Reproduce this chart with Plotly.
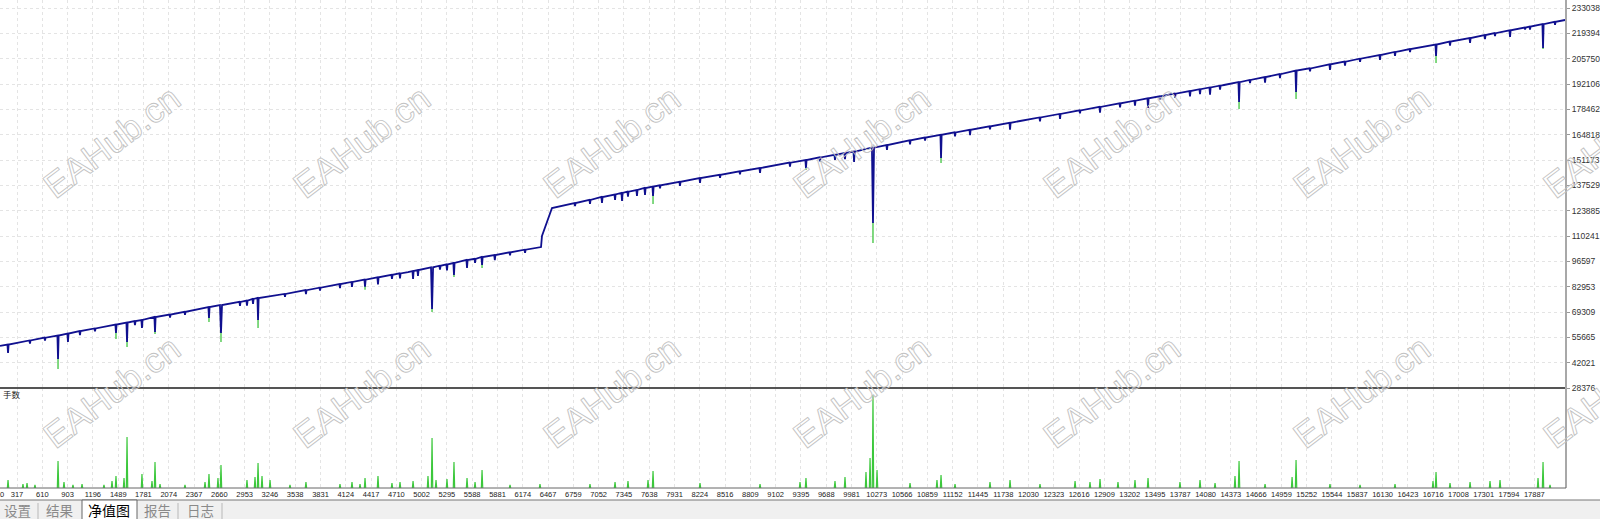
import plotly.graph_objects as go

# ---------------- data ----------------
x_tick_labels = [317, 610, 903, 1196, 1489, 1781, 2074, 2367, 2660, 2953, 3246, 3538, 3831,
                 4124, 4417, 4710, 5002, 5295, 5588, 5881, 6174, 6467, 6759, 7052, 7345, 7638,
                 7931, 8224, 8516, 8809, 9102, 9395, 9688, 9981, 10273, 10566, 10859, 11152,
                 11445, 11738, 12030, 12323, 12616, 12909, 13202, 13495, 13787, 14080, 14373,
                 14666, 14959, 15252, 15544, 15837, 16130, 16423, 16716, 17008, 17301, 17594,
                 17887]
y_tick_labels = [28376, 42021, 55665, 69309, 82953, 96597, 110241, 123885, 137529, 151173,
                 164818, 178462, 192106, 205750, 219394, 233038]

# main curve key points (trade #, balance)
trend_x = [120, 2436, 4845, 5910, 6385, 6396, 6454, 6477, 6512, 7647, 10044, 10542,
           11932, 14294, 16332, 18243]
trend_y = [51000, 70900, 90850, 100550, 104300, 110240, 118320, 121550, 125320, 136630,
           156020, 160870, 172180, 191570, 209880, 226580]

# drawdown spikes: trade #, level before, blue low, green (equity) low
dip_x = [213, 792, 907, 1046, 1463, 1591, 1764, 1915, 2540, 2679, 3050, 3108, 3663, 4347,
         4497, 4903, 4960, 5123, 5377, 5528, 5702, 5850, 7091, 7242, 7323, 7496, 7589, 7682,
         8226, 8921, 9453, 10010, 10229, 10391, 11017, 11353, 11816, 12395, 12858, 13414,
         13900, 14132, 14468, 14769, 15128, 15521, 16100, 16749, 17143, 17606, 17780, 17988,
         467, 641, 1220, 1683, 2089, 2262, 2899, 2980, 3420, 3826, 4057, 4196, 4659, 4752,
         5215, 5296, 5621, 6026, 6200,
         6779, 6952, 7392, 7763, 7994, 8458, 8689, 9268, 9616, 9789, 9905,
         10658, 10832, 11179, 11584, 12163, 12626, 13090, 13263, 13553, 13727, 14016, 14248,
         14595, 14942, 15290, 15695, 15869, 16274, 16448, 16911, 17316, 17432, 17837, 18127]
dip_level = [51805, 56653, 57730, 59076, 62577, 63654, 65001, 66617, 72003, 73080, 76311,
             76850, 81060, 86730, 87970, 91380, 91900, 93380, 95700, 97317, 98933, 100000,
             131249, 132595, 133403, 135019, 136096, 136904, 141482, 146868, 151177, 155755,
             157820, 159256, 164740, 167470, 171240, 175980, 179780, 184408, 188340, 190240,
             193130, 195840, 199328, 202721, 207730, 213385, 216886, 221010, 222530, 224350,
             53980, 55480, 60450, 64430, 67920, 69410, 74740, 75410, 79050, 82410, 84330, 85480,
             89310, 90080, 94220, 94960, 97920, 101465, 102850,
             127980, 129700, 134090, 137570, 139440, 143190, 145060, 149740, 152560, 153960,
             154900,
             161810, 163230, 166050, 169350, 174080, 177880, 181690, 183110, 185490, 186920,
             189290, 191190, 194270, 197390, 200520, 204160, 205720, 209360, 210890, 214940,
             218480, 219490, 223030, 225570]
dip_blue_low = [47227, 43995, 53152, 56922, 57999, 53152, 60692, 58538, 66078, 57999, 73618,
                65001, 78910, 82960, 84200, 87100, 88700, 70925, 89238, 93008, 94624, 97300,
                128017, 129633, 129094, 131787, 132326, 131787, 138789, 144175, 146868, 150100,
                117245, 156563, 152254, 164560, 167470, 173290, 176710, 179184, 185370, 186310,
                182416, 192820, 187802, 199651, 205037, 207191, 214193, 217455, 221450, 211500,
                52370, 53860, 58840, 62280, 66310, 67800, 72590, 72720, 77440, 80800, 82180,
                82790, 87160, 87390, 92070, 91730, 95770, 99850, 101250,
                126365, 127550, 131400, 135955, 137285, 141575, 143445, 147585, 150405, 151270,
                151670,
                159656, 161615, 163895, 167735, 171925, 176265, 179535, 180420, 183875, 184765,
                186600, 189035, 192655, 195235, 198905, 202005, 204105, 207205, 209275, 212785,
                216325, 217875, 221415, 223955]
dip_green_low = [47227, 38609, 53152, 56922, 54767, 50459, 60692, 57460, 63924, 53152, 73618,
                 60692, 78910, 81340, 84200, 87100, 88700, 69310, 88161, 93008, 93008, 97300,
                 128017, 129633, 129094, 131787, 132326, 127478, 138789, 144175, 145791, 150100,
                 106473, 156563, 149561, 164560, 167470, 173290, 176710, 179184, 185370, 186310,
                 178645, 192820, 184031, 199651, 205037, 203421, 214193, 217455, 221450, 210961,
                 52370, 53860, 58840, 62280, 66310, 67800, 72590, 72720, 77440, 80800, 82180,
                 82790, 87160, 87390, 92070, 91730, 95770, 99850, 101250,
                 126365, 127550, 131400, 135955, 137285, 141575, 143445, 147585, 150405, 151270,
                 151670,
                 159656, 161615, 163895, 167735, 171925, 176265, 179535, 180420, 183875, 184765,
                 186600, 189035, 192655, 195235, 198905, 202005, 204105, 207205, 209275, 212785,
                 216325, 217875, 221415, 223955]

# lots (手数) spikes
lot_x = [213, 386, 792, 1070, 1463, 1591, 1764, 1915, 2540, 2679, 3108, 3154, 3247, 3663,
         4347, 4497, 4903, 5123, 5377, 5528, 5702, 7682, 9453, 10195, 10229, 11017, 11816,
         13414, 14468, 15128, 16749, 17988,
         433, 525, 861, 965, 1324, 1417, 1556, 1880, 1973, 2262, 2494, 2644, 2980, 3073, 3478,
         4057, 4196, 4289, 4659, 4752, 5076, 5169, 5296, 5621, 6026, 6373, 6952, 7242, 7392,
         7624, 8226, 8921, 9384, 9789, 9905, 10148, 10276, 10658, 10970, 11179, 11584, 12163,
         12569, 12742, 12858, 13066, 13263, 13784, 14016, 14190, 14421, 14769, 15082, 15521,
         15869, 16274, 16714, 16911, 17143, 17374, 17490, 17930, 18069]
lot_y = [0.4, 0.2, 1.35, 0.2, 0.6, 2.55, 0.7, 1.3, 0.7, 1.15, 1.25, 0.6, 0.4, 0.3, 0.5, 0.6,
         0.35, 2.5, 1.3, 0.5, 0.9, 0.85, 0.5, 1.5, 4.65, 0.65, 0.4, 0.5, 1.35, 1.4, 0.8, 1.3,
         0.25, 0.15, 0.3, 0.15, 0.15, 0.35, 0.5, 0.35, 0.2, 0.15, 0.3, 0.5, 0.4, 0.55, 0.15,
         0.2, 0.3, 0.2, 0.25, 0.3, 0.6, 0.4, 0.45, 0.3, 0.15, 0.2, 0.2, 0.3, 0.35,
         0.4, 0.25, 0.2, 0.3, 0.35, 0.55, 0.8, 0.9, 0.25, 0.4, 0.2, 0.3, 0.2,
         0.35, 0.3, 0.45, 0.3, 0.4, 0.3, 0.4, 0.25, 0.6, 0.2, 0.55, 0.2,
         0.15, 0.2, 0.35, 0.25, 0.3, 0.35, 0.4, 0.5, 0.15]

tabs = ["设置", "结果", "净值图", "报告", "日志"]
watermark = "EAHub.cn"

# ---------------- geometry ----------------
W, H = 1600, 519
PL, PR = 1566, 488           # plot right edge / bottom edge in px
SEP = 388                    # separator between panels (px)
X_RANGE = [120, 18254]
Y_RANGE = [28376, 237353]
LOT_RANGE = [0, 5]


def px(x):
    return x / PL


def py(y):
    return (PR - y) / PR


# build blue curve: trend points merged with V dips
pts = list(zip(trend_x, trend_y))
for i, x in enumerate(dip_x):
    w = 12 if (dip_level[i] - dip_blue_low[i]) > 15000 else 7
    pts.append((x - w, dip_level[i]))
    pts.append((x, dip_blue_low[i]))
    pts.append((x + w, dip_level[i]))
pts.sort(key=lambda p: p[0])
bx = [p[0] for p in pts]
by = [p[1] for p in pts]

gx, gy = [], []
for i, x in enumerate(dip_x):
    if dip_green_low[i] < dip_blue_low[i]:
        gx += [x, x, None]
        gy += [dip_blue_low[i] + 500, dip_green_low[i], None]

lx, ly = [], []
for x, v in zip(lot_x, lot_y):
    lx += [x - 8, x, x + 8, None]
    ly += [0, v, 0, None]

fig = go.Figure()
fig.add_trace(go.Scatter(x=gx, y=gy, mode="lines", line=dict(color="#4cc84c", width=1.4),
                         xaxis="x", yaxis="y", hoverinfo="skip", showlegend=False))
fig.add_trace(go.Scatter(x=bx, y=by, mode="lines", line=dict(color="#10108f", width=1.8),
                         xaxis="x", yaxis="y", hoverinfo="skip", showlegend=False))
fig.add_trace(go.Scatter(x=lx, y=ly, mode="lines", line=dict(color="#3cc83c", width=1.2),
                         fill=None, xaxis="x2", yaxis="y2", hoverinfo="skip", showlegend=False))

grid = dict(showgrid=True, gridcolor="#e4e4e4", griddash="dot", gridwidth=1)
dom_split = (PR - SEP) / PR

fig.update_layout(
    template="none",
    width=W, height=H,
    margin=dict(l=0, r=W - PL, t=0, b=H - PR, pad=0),
    paper_bgcolor="white", plot_bgcolor="white",
    showlegend=False,
    xaxis=dict(domain=[0, 1], range=X_RANGE, anchor="y", tickvals=x_tick_labels,
               showticklabels=False, ticks="", zeroline=False, showline=False,
               automargin=False, **grid),
    yaxis=dict(domain=[dom_split, 1], range=Y_RANGE, side="right", anchor="x",
               tickvals=y_tick_labels, ticktext=[str(v) for v in y_tick_labels],
               ticks="outside", ticklen=3, tickcolor="#999999",
               tickfont=dict(family="Liberation Sans, Arial", size=8.5, color="#333333"),
               zeroline=False, showline=False, automargin=False, **grid),
    xaxis2=dict(domain=[0, 1], range=X_RANGE, anchor="y2", matches="x",
                tickvals=x_tick_labels, ticktext=[str(v) for v in x_tick_labels],
                ticks="", tickfont=dict(family="Liberation Sans, Arial", size=7.5, color="#222222"),
                zeroline=False, showline=False, automargin=False, ticklabelstandoff=0, **grid),
    yaxis2=dict(domain=[0, dom_split], range=LOT_RANGE, side="right", anchor="x2",
                showgrid=False, showticklabels=False, ticks="", zeroline=False,
                showline=False, automargin=False),
)

shapes = []
# borders
shapes.append(dict(type="line", xref="paper", yref="paper", x0=0, x1=1, y0=py(SEP), y1=py(SEP),
                   line=dict(color="#555555", width=2)))
shapes.append(dict(type="line", xref="paper", yref="paper", x0=1, x1=1, y0=0, y1=1,
                   line=dict(color="#a8a8a8", width=2)))
shapes.append(dict(type="line", xref="paper", yref="paper", x0=0, x1=1, y0=0, y1=0,
                   line=dict(color="#666666", width=1)))
# tab bar
shapes.append(dict(type="rect", xref="paper", yref="paper", x0=px(0), x1=px(W), y0=py(500),
                   y1=py(H), fillcolor="#f0f0f0", line=dict(width=0), layer="below"))
shapes.append(dict(type="line", xref="paper", yref="paper", x0=px(0), x1=px(W), y0=py(500),
                   y1=py(500), line=dict(color="#777777", width=1)))
shapes.append(dict(type="rect", xref="paper", yref="paper", x0=px(82), x1=px(137), y0=py(500),
                   y1=py(H + 2), fillcolor="white", line=dict(color="#666666", width=1)))
for sx in [38, 178, 222]:
    shapes.append(dict(type="line", xref="paper", yref="paper", x0=px(sx), x1=px(sx),
                       y0=py(503), y1=py(H), line=dict(color="#b8b8b8", width=1)))
fig.update_layout(shapes=shapes)

ann = []
tab_cx = [17, 60, 109, 157, 200]
for t, cx in zip(tabs, tab_cx):
    sel = t == "净值图"
    ann.append(dict(text=t, xref="paper", yref="paper", x=px(cx), y=py(510), showarrow=False,
                    xanchor="center", yanchor="middle",
                    font=dict(family="Noto Sans CJK SC", size=13.5 if not sel else 14,
                              color="#000000" if sel else "#8a8a8a")))
ann.append(dict(text="手数", xref="paper", yref="paper", x=px(1), y=py(394), showarrow=False,
                xanchor="left", yanchor="middle",
                font=dict(family="Noto Sans CJK SC", size=8.5, color="#222222")))
ann.append(dict(text="0", xref="paper", yref="paper", x=px(2), y=py(494), showarrow=False,
                xanchor="center", yanchor="middle",
                font=dict(family="Liberation Sans, Arial", size=7.5, color="#222222")))
for wy in [142, 392]:
    for wx in [112, 362, 612, 862, 1112, 1362, 1612]:
        ann.append(dict(text=watermark, xref="paper", yref="paper", x=px(wx), y=py(wy),
                        showarrow=False, xanchor="center", yanchor="middle", textangle=-37,
                        font=dict(family="Liberation Sans, Arial", size=35.5, color="#c4c4c4")))
fig.update_layout(annotations=ann)

post = """
document.body.style.margin='0';
document.body.style.overflow='hidden';
var gd = document.getElementById('{plot_id}');
gd.querySelectorAll('text.annotation-text').forEach(function(t){
  if (t.textContent === 'EAHub.cn') {
    t.style.fill = 'none';
    t.style.stroke = '#c2c2c2';
    t.style.strokeWidth = '0.9px';
  }
});
"""
fig.write_html("out.html", config={"displayModeBar": False}, post_script=post)
